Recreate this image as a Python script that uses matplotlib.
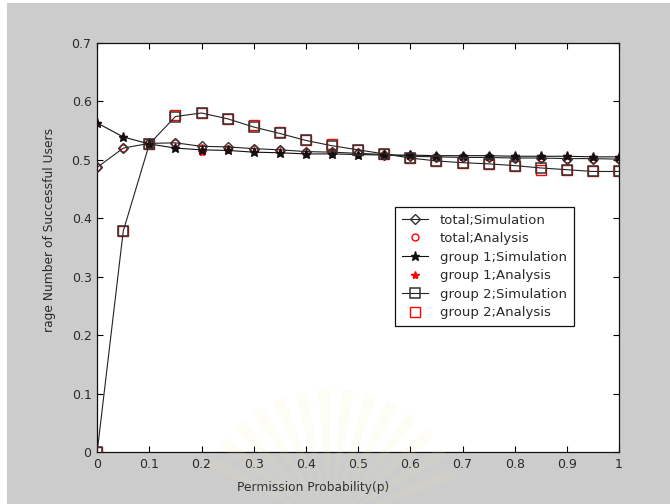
import numpy as np
import matplotlib
matplotlib.use("Agg")
import matplotlib.pyplot as plt
from matplotlib.patches import Rectangle, Wedge

# permission probability sweep
p = [0.0, 0.05, 0.10, 0.15, 0.20, 0.25, 0.30, 0.35, 0.40, 0.45, 0.50,
     0.55, 0.60, 0.65, 0.70, 0.75, 0.80, 0.85, 0.90, 0.95, 1.00]

total_sim = [0.487, 0.520, 0.528, 0.529, 0.523, 0.522, 0.519, 0.517, 0.514, 0.513, 0.511,
             0.509, 0.506, 0.505, 0.504, 0.504, 0.503, 0.503, 0.502, 0.502, 0.501]
total_ana = [0.487, 0.520, 0.528, 0.529, 0.520, 0.519, 0.519, 0.517, 0.514, 0.513, 0.511,
             0.509, 0.506, 0.505, 0.504, 0.504, 0.503, 0.503, 0.502, 0.502, 0.501]

g1_sim = [0.563, 0.539, 0.527, 0.520, 0.517, 0.516, 0.513, 0.512, 0.510, 0.510, 0.509,
          0.508, 0.508, 0.507, 0.507, 0.507, 0.506, 0.506, 0.506, 0.505, 0.505]
g1_ana = [0.563, 0.539, 0.527, 0.520, 0.514, 0.516, 0.513, 0.512, 0.510, 0.510, 0.509,
          0.508, 0.510, 0.507, 0.507, 0.507, 0.506, 0.506, 0.506, 0.505, 0.505]

g2_sim = [0.000, 0.378, 0.527, 0.574, 0.580, 0.570, 0.556, 0.545, 0.533, 0.524, 0.517,
          0.510, 0.503, 0.498, 0.495, 0.493, 0.490, 0.486, 0.483, 0.480, 0.480]
g2_ana = [0.000, 0.378, 0.527, 0.577, 0.580, 0.570, 0.559, 0.548, 0.533, 0.527, 0.517,
          0.510, 0.503, 0.498, 0.495, 0.493, 0.490, 0.483, 0.483, 0.480, 0.480]

xticks = [0, 0.1, 0.2, 0.3, 0.4, 0.5, 0.6, 0.7, 0.8, 0.9, 1]
xticklabels = ["0", "0.1", "0.2", "0.3", "0.4", "0.5", "0.6", "0.7", "0.8", "0.9", "1"]
yticks = [0, 0.1, 0.2, 0.3, 0.4, 0.5, 0.6, 0.7]
yticklabels = ["0", "0.1", "0.2", "0.3", "0.4", "0.5", "0.6", "0.7"]

plt.rcParams['font.family'] = ['DejaVu Sans']
txt = '#2a2a2a'

fig = plt.figure(figsize=(6.7, 5.04), dpi=100, facecolor='white')
# gray window background, thin white strip on top/left
fig.add_artist(Rectangle((7 / 670, 0), 1, 1 - 3 / 504, transform=fig.transFigure,
                         facecolor='#cccccc', edgecolor='none', zorder=-10))

ax = fig.add_axes([0.145, 0.103, 0.779, 0.812])
ax.set_facecolor('white')

lw = 0.8
# analysis markers sit under the simulation curves
h_ta, = ax.plot(p, total_ana, ls='none', marker='o', ms=5, mfc='none', mec='red', mew=1.0, zorder=2)
h_1a, = ax.plot(p, g1_ana, ls='none', marker='*', ms=6, mfc='red', mec='red', zorder=2)
h_2a, = ax.plot(p, g2_ana, ls='none', marker='s', ms=6.5, mfc='none', mec='red', mew=1.0, zorder=2)

h_ts, = ax.plot(p, total_sim, color='#222222', lw=lw, marker='D', ms=5.5, mfc='none', mec='#333333', mew=1.0, zorder=3)
h_1s, = ax.plot(p, g1_sim, color='#111111', lw=lw, marker='*', ms=6.5, mfc='#111111', mec='#111111', zorder=3)
h_2s, = ax.plot(p, g2_sim, color='#222222', lw=lw, marker='s', ms=6.8, mfc='none', mec='#333333', mew=1.1, zorder=3)

ax.set_xlim(0, 1)
ax.set_ylim(0, 0.7)
ax.set_xticks(xticks)
ax.set_xticklabels(xticklabels)
ax.set_yticks(yticks)
ax.set_yticklabels(yticklabels)
ax.tick_params(direction='in', length=4, width=0.8, top=True, right=True,
               labelsize=9, labelcolor=txt, pad=4)
for s in ax.spines.values():
    s.set_linewidth(0.9)
    s.set_color('#111111')

fig.text(313 / 670, 1 - 488 / 504, 'Permission Probability(p)', ha='center', va='center',
         fontsize=8.8, color=txt)
fig.text(50 / 670, 1 - 230 / 504, 'rage Number of Successful Users', ha='center', va='center',
         rotation=90, fontsize=8.8, color=txt)

leg = ax.legend([h_ts, h_ta, h_1s, h_1a, h_2s, h_2a],
                ['total;Simulation', 'total;Analysis', 'group 1;Simulation',
                 'group 1;Analysis', 'group 2;Simulation', 'group 2;Analysis'],
                loc='upper left', bbox_to_anchor=(0.571, 0.599), borderaxespad=0,
                fontsize=9.5, fancybox=False, framealpha=1, edgecolor='#111111',
                handlelength=2.0, labelspacing=0.42, borderpad=0.5, handletextpad=0.9)
leg.get_frame().set_linewidth(0.9)
for t in leg.get_texts():
    t.set_color(txt)

# faint sunburst emblem near the bottom
for k in range(14):
    a0 = 20 + k * 10
    fig.add_artist(Wedge((3.3, -0.2), 1.35, a0, a0 + 5, transform=fig.dpi_scale_trans,
                         facecolor='#f3e6a6', edgecolor='none', alpha=0.1, zorder=5))

fig.savefig('out.png', dpi=100, facecolor=fig.get_facecolor())
